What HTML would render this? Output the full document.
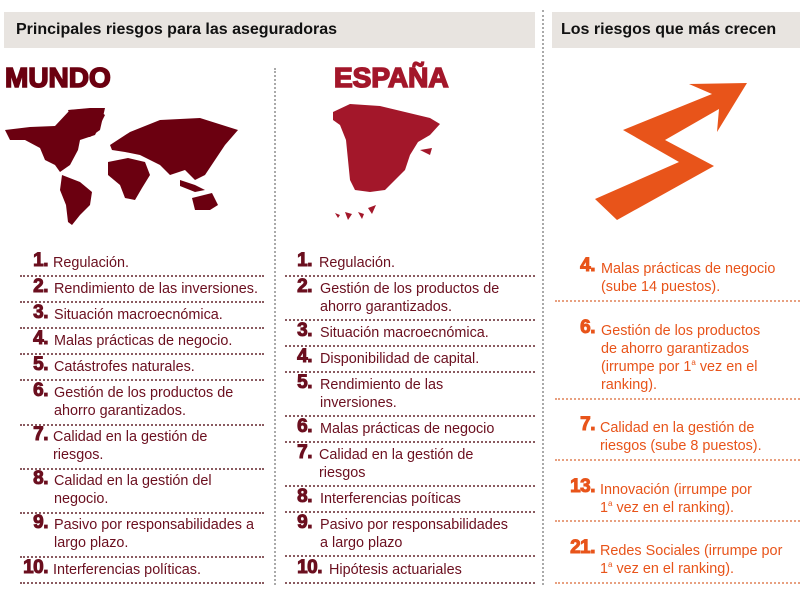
<!DOCTYPE html>
<html><head><meta charset="utf-8"><style>
body{margin:0;width:800px;height:591px;background:#fff;position:relative;overflow:hidden;font-family:"Liberation Sans",sans-serif}
.a{position:absolute}
.hd{background:#e8e4e0;font-weight:bold;font-size:16px;color:#111;line-height:36px;padding-left:12px;box-sizing:border-box}
.big{font-weight:bold;font-size:28px;-webkit-text-stroke:1.6px currentColor;letter-spacing:0px}
.t{font-size:14.4px;line-height:18px;white-space:nowrap}
.n{font-weight:bold;font-size:19px;text-align:right;-webkit-text-stroke:1px currentColor;letter-spacing:-0.5px}
.hl{border-top:2px dotted #8a5a60;height:0}
.vl{border-left:2px dotted #aaa;width:0}
.L{color:#6b0f1f}.R{color:#e8541a}
.hlr{border-top:2px dotted #e8a080;height:0}
sup{font-size:8px;line-height:0;vertical-align:6px}
</style></head><body>
<div class="a hd" style="left:4px;top:12px;width:531px;height:36px">Principales riesgos para las aseguradoras</div>
<div class="a hd" style="left:552px;top:12px;width:248px;height:36px;padding-left:9px">Los riesgos que más crecen</div>
<div class="a vl" style="left:274px;top:68px;height:517px"></div>
<div class="a vl" style="left:542px;top:10px;height:575px"></div>
<div class="a big" style="left:5px;top:62px;color:#6b0010">MUNDO</div>
<div class="a big" style="left:334px;top:62px;color:#a3172a">ESPAÑA</div>
<svg class="a" style="left:0;top:0" width="800" height="591">
<g fill="#6b0010">
<path d="M5,130 L30,127 L55,126 L70,110 L95,108 L105,115 L95,135 L80,140 L78,150 L70,165 L60,172 L55,165 L45,160 L40,148 L25,140 L10,140Z"/>
<path d="M68,110 L90,108 L105,108 L100,130 L90,137 L78,135Z"/>
<path d="M62,175 L80,182 L92,192 L90,205 L80,215 L72,225 L68,222 L66,205 L60,190Z"/>
<path d="M110,145 L130,132 L160,120 L200,118 L238,130 L225,145 L215,160 L205,175 L195,180 L185,170 L170,175 L160,165 L150,160 L140,155 L125,152 L112,150Z"/>
<path d="M108,162 L128,158 L145,162 L150,175 L142,188 L135,200 L125,198 L120,185 L108,175Z"/>
<path d="M192,198 L212,193 L218,205 L210,210 L195,210Z"/>
<path d="M180,180 L195,185 L205,190 L195,192 L180,186Z"/>
</g>
<path fill="#a3172a" d="M333,112 L350,104 L380,106 L405,112 L430,118 L440,124 L430,135 L418,142 L410,155 L405,170 L395,180 L385,190 L370,192 L355,190 L350,180 L348,160 L346,140 L340,125 L333,120Z M420,150 L432,148 L430,155Z M335,213 L340,215 L338,218Z M345,212 L352,214 L348,220Z M358,212 L364,214 L362,219Z M368,208 L376,205 L372,214Z"/>
<path fill="#e8541a" d="M595,199 L679,162 L623,130 L712,94 L689,84 L747,83 L717,132 L719,109 L665,140 L714,166 L617,220Z"/>
</svg>

<div class="a n L" style="left:14px;top:250px;width:34px">1.</div><div class="a t L" style="left:53px;top:254px">Regulación.</div>
<div class="a hl" style="left:20px;top:275px;width:244px"></div>
<div class="a n L" style="left:14px;top:276px;width:34px">2.</div><div class="a t L" style="left:54px;top:280px">Rendimiento de las inversiones.</div>
<div class="a hl" style="left:20px;top:301px;width:244px"></div>
<div class="a n L" style="left:14px;top:302px;width:34px">3.</div><div class="a t L" style="left:54px;top:306px">Situación macroecnómica.</div>
<div class="a hl" style="left:20px;top:327px;width:244px"></div>
<div class="a n L" style="left:14px;top:328px;width:34px">4.</div><div class="a t L" style="left:54px;top:332px">Malas prácticas de negocio.</div>
<div class="a hl" style="left:20px;top:353px;width:244px"></div>
<div class="a n L" style="left:14px;top:354px;width:34px">5.</div><div class="a t L" style="left:54px;top:358px">Catástrofes naturales.</div>
<div class="a hl" style="left:20px;top:379px;width:244px"></div>
<div class="a n L" style="left:14px;top:380px;width:34px">6.</div><div class="a t L" style="left:54px;top:384px">Gestión de los productos de<br>ahorro garantizados.</div>
<div class="a hl" style="left:20px;top:424px;width:244px"></div>
<div class="a n L" style="left:14px;top:424px;width:34px">7.</div><div class="a t L" style="left:53px;top:428px">Calidad en la gestión de<br>riesgos.</div>
<div class="a hl" style="left:20px;top:468px;width:244px"></div>
<div class="a n L" style="left:14px;top:468px;width:34px">8.</div><div class="a t L" style="left:54px;top:472px">Calidad en la gestión del<br>negocio.</div>
<div class="a hl" style="left:20px;top:512px;width:244px"></div>
<div class="a n L" style="left:14px;top:512px;width:34px">9.</div><div class="a t L" style="left:54px;top:516px">Pasivo por responsabilidades a<br>largo plazo.</div>
<div class="a hl" style="left:20px;top:556px;width:244px"></div>
<div class="a n L" style="left:2px;top:557px;width:46px">10.</div><div class="a t L" style="left:53px;top:561px">Interferencias políticas.</div>
<div class="a hl" style="left:20px;top:582px;width:244px"></div>

<div class="a n L" style="left:278px;top:250px;width:34px">1.</div><div class="a t L" style="left:319px;top:254px">Regulación.</div>
<div class="a hl" style="left:285px;top:275px;width:250px"></div>
<div class="a n L" style="left:278px;top:276px;width:34px">2.</div><div class="a t L" style="left:320px;top:280px">Gestión de los productos de<br>ahorro garantizados.</div>
<div class="a hl" style="left:285px;top:319px;width:250px"></div>
<div class="a n L" style="left:278px;top:320px;width:34px">3.</div><div class="a t L" style="left:320px;top:324px">Situación macroecnómica.</div>
<div class="a hl" style="left:285px;top:345px;width:250px"></div>
<div class="a n L" style="left:278px;top:346px;width:34px">4.</div><div class="a t L" style="left:320px;top:350px">Disponibilidad de capital.</div>
<div class="a hl" style="left:285px;top:371px;width:250px"></div>
<div class="a n L" style="left:278px;top:372px;width:34px">5.</div><div class="a t L" style="left:320px;top:376px">Rendimiento de las<br>inversiones.</div>
<div class="a hl" style="left:285px;top:415px;width:250px"></div>
<div class="a n L" style="left:278px;top:416px;width:34px">6.</div><div class="a t L" style="left:320px;top:420px">Malas prácticas de negocio</div>
<div class="a hl" style="left:285px;top:441px;width:250px"></div>
<div class="a n L" style="left:278px;top:442px;width:34px">7.</div><div class="a t L" style="left:319px;top:446px">Calidad en la gestión de<br>riesgos</div>
<div class="a hl" style="left:285px;top:485px;width:250px"></div>
<div class="a n L" style="left:278px;top:486px;width:34px">8.</div><div class="a t L" style="left:320px;top:490px">Interferencias poíticas</div>
<div class="a hl" style="left:285px;top:511px;width:250px"></div>
<div class="a n L" style="left:278px;top:512px;width:34px">9.</div><div class="a t L" style="left:320px;top:516px">Pasivo por responsabilidades<br>a largo plazo</div>
<div class="a hl" style="left:285px;top:555px;width:250px"></div>
<div class="a n L" style="left:276px;top:557px;width:46px">10.</div><div class="a t L" style="left:329px;top:561px">Hipótesis actuariales</div>
<div class="a hl" style="left:285px;top:582px;width:250px"></div>

<div class="a n R" style="left:560px;top:255px;width:35px">4.</div><div class="a t R" style="left:601px;top:260px">Malas prácticas de negocio<br>(sube 14 puestos).</div>
<div class="a hlr" style="left:555px;top:300px;width:245px"></div>
<div class="a n R" style="left:560px;top:317px;width:35px">6.</div><div class="a t R" style="left:601px;top:322px">Gestión de los productos<br>de ahorro garantizados<br>(irrumpe por 1<sup>a</sup> vez en el<br>ranking).</div>
<div class="a hlr" style="left:555px;top:398px;width:245px"></div>
<div class="a n R" style="left:560px;top:414px;width:35px">7.</div><div class="a t R" style="left:600px;top:419px">Calidad en la gestión de<br>riesgos (sube 8 puestos).</div>
<div class="a hlr" style="left:555px;top:459px;width:245px"></div>
<div class="a n R" style="left:555px;top:476px;width:40px">13.</div><div class="a t R" style="left:600px;top:481px">Innovación (irrumpe por<br>1<sup>a</sup> vez en el ranking).</div>
<div class="a hlr" style="left:555px;top:520px;width:245px"></div>
<div class="a n R" style="left:555px;top:537px;width:40px">21.</div><div class="a t R" style="left:600px;top:542px">Redes Sociales (irrumpe por<br>1<sup>a</sup> vez en el ranking).</div>
<div class="a hlr" style="left:555px;top:582px;width:245px"></div>
</body></html>
